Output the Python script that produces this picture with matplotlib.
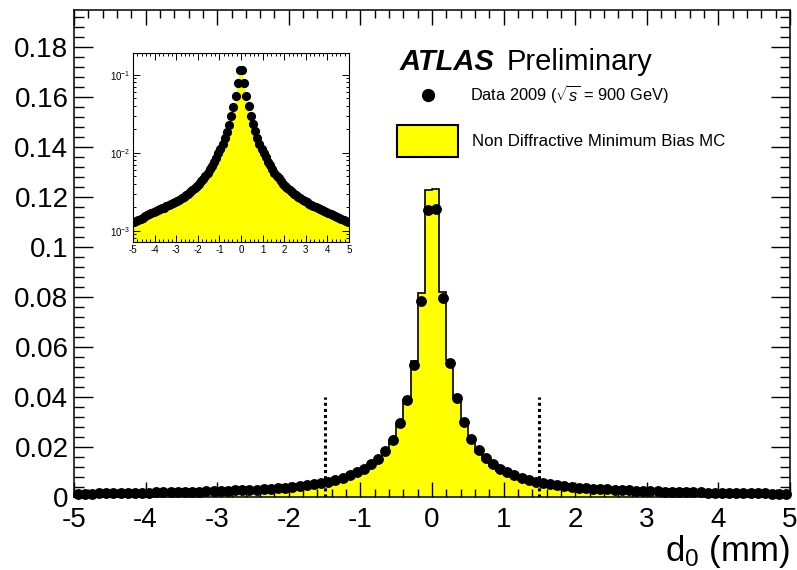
import numpy as np
import matplotlib
matplotlib.use("Agg")
import matplotlib.pyplot as plt
from matplotlib.ticker import MultipleLocator, FuncFormatter, LogLocator, NullFormatter
from matplotlib.patches import Rectangle

plt.rcParams['font.family'] = ['Liberation Sans', 'DejaVu Sans']
plt.rcParams['axes.unicode_minus'] = False
plt.rcParams['mathtext.fontset'] = 'custom'
plt.rcParams['mathtext.rm'] = 'Liberation Sans'
plt.rcParams['mathtext.it'] = 'Liberation Sans:italic'

# transverse impact parameter binning (mm)
d0_lo, d0_hi, n_bins = -5.0, 5.0, 100

# Data 2009, fraction of tracks per 0.1 mm bin (from d0 = -4.95 to 4.95)
data_frac = [
    0.00128, 0.00133, 0.00138, 0.00143, 0.00148, 0.00153, 0.00158, 0.00163, 0.00168, 0.00173,
    0.00178, 0.00183, 0.00188, 0.00194, 0.00199, 0.00206, 0.00212, 0.00219, 0.00227, 0.00235,
    0.00243, 0.00252, 0.00262, 0.00273, 0.00286, 0.00300, 0.00316, 0.00334, 0.00354, 0.00377,
    0.00402, 0.00432, 0.00467, 0.00508, 0.00556, 0.00614, 0.00683, 0.00766, 0.00866, 0.00985,
    0.0113, 0.0131, 0.0153, 0.0184, 0.0229, 0.0295, 0.0388, 0.0528, 0.0786, 0.1148,
    0.1152, 0.0795, 0.0538, 0.0398, 0.0300, 0.0234, 0.0188, 0.0155, 0.0131, 0.0113,
    0.00990, 0.00872, 0.00772, 0.00688, 0.00618, 0.00559, 0.00510, 0.00469, 0.00434, 0.00404,
    0.00378, 0.00355, 0.00335, 0.00317, 0.00301, 0.00287, 0.00274, 0.00262, 0.00251, 0.00241,
    0.00232, 0.00224, 0.00216, 0.00209, 0.00202, 0.00196, 0.00190, 0.00184, 0.00179, 0.00174,
    0.00169, 0.00164, 0.00159, 0.00155, 0.00150, 0.00146, 0.00142, 0.00138, 0.00134, 0.00130,
]

# Non diffractive minimum bias MC, same binning
mc_frac = [
    0.00113, 0.00117, 0.00121, 0.00126, 0.00130, 0.00134, 0.00139, 0.00143, 0.00148, 0.00152,
    0.00157, 0.00161, 0.00166, 0.00171, 0.00176, 0.00182, 0.00187, 0.00193, 0.00200, 0.00207,
    0.00214, 0.00222, 0.00231, 0.00241, 0.00252, 0.00264, 0.00278, 0.00294, 0.00312, 0.00332,
    0.00355, 0.00382, 0.00413, 0.00450, 0.00494, 0.00546, 0.00610, 0.00688, 0.00784, 0.00902,
    0.0105, 0.0123, 0.0146, 0.0178, 0.0224, 0.0292, 0.0390, 0.0545, 0.0818, 0.1228,
    0.1232, 0.0822, 0.0550, 0.0395, 0.0295, 0.0228, 0.0181, 0.0148, 0.0124, 0.0106,
    0.00910, 0.00790, 0.00692, 0.00614, 0.00550, 0.00497, 0.00453, 0.00416, 0.00384, 0.00357,
    0.00334, 0.00313, 0.00295, 0.00279, 0.00265, 0.00253, 0.00242, 0.00232, 0.00222, 0.00213,
    0.00205, 0.00198, 0.00191, 0.00184, 0.00178, 0.00172, 0.00167, 0.00162, 0.00157, 0.00152,
    0.00148, 0.00143, 0.00139, 0.00135, 0.00131, 0.00127, 0.00123, 0.00119, 0.00116, 0.00113,
]

# track selection cut |d0| < 1.5 mm
cut_positions = [-1.5, 1.5]
cut_height = 0.04

edges = np.linspace(d0_lo, d0_hi, n_bins + 1)
centers = 0.5 * (edges[:-1] + edges[1:])
data_frac = np.array(data_frac)
mc_frac = np.array(mc_frac)

YELLOW = '#ffff00'

fig = plt.figure(figsize=(7.97, 5.70), dpi=100)
ax = fig.add_axes([74 / 797, 73 / 570, 716 / 797, 487 / 570])

ax.stairs(mc_frac, edges, fill=True, color=YELLOW, zorder=1)
ax.stairs(mc_frac, edges, color='black', lw=1.2, zorder=2)
ax.plot(centers, data_frac, 'o', color='black', ms=6.8, zorder=4, clip_on=False)
ax.vlines(cut_positions, 0, cut_height, colors='black', linestyles=(0, (1, 1)), lw=2.2, zorder=3)

ax.set_xlim(d0_lo, d0_hi)
ax.set_ylim(0, 0.195)
ax.xaxis.set_major_locator(MultipleLocator(1))
ax.xaxis.set_minor_locator(MultipleLocator(0.2))
ax.yaxis.set_major_locator(MultipleLocator(0.02))
ax.yaxis.set_minor_locator(MultipleLocator(0.004))
ax.yaxis.set_major_formatter(FuncFormatter(lambda v, p: '%g' % round(v, 4)))
ax.xaxis.set_major_formatter(FuncFormatter(lambda v, p: '%g' % round(v, 4)))
ax.tick_params(which='both', direction='in', top=True, right=True, width=1.0, labelsize=20)
ax.tick_params(axis='y', which='major', length=14, pad=4)
ax.tick_params(axis='y', which='minor', length=7)
ax.tick_params(axis='x', which='major', length=11)
ax.tick_params(axis='x', which='minor', length=5.5)
ax.tick_params(axis='x', pad=7.5)
for s in ax.spines.values():
    s.set_linewidth(1.1)

fig.text(790 / 797, 1 - 552 / 570, r'd$_0$ (mm)', ha='right', va='center', fontsize=25)

# ATLAS label and legend
fig.text(400 / 797, 1 - 62 / 570, 'ATLAS', fontsize=21, fontweight='bold', fontstyle='italic',
         ha='left', va='center')
fig.text(507 / 797, 1 - 62 / 570, 'Preliminary', fontsize=21, ha='left', va='center')
fig.lines.append(plt.Line2D([428 / 797], [1 - 95 / 570], marker='o', color='black', ms=8.5,
                            transform=fig.transFigure))
fig.text(470 / 797, 1 - 95 / 570, r'Data 2009 ($\sqrt{s}$ = 900 GeV)', fontsize=11.8,
         ha='left', va='center')
fig.patches.append(Rectangle((397 / 797, 1 - 157 / 570), 61 / 797, 32 / 570,
                             facecolor=YELLOW, edgecolor='black', lw=1.5,
                             transform=fig.transFigure))
fig.text(472 / 797, 1 - 141 / 570, 'Non Diffractive Minimum Bias MC', fontsize=12.2,
         ha='left', va='center')

# logarithmic inset
ins = fig.add_axes([133 / 797, 1 - 242 / 570, 216 / 797, 189 / 570])
ins.stairs(mc_frac, edges, fill=True, color=YELLOW, baseline=1e-5, zorder=1)
ins.plot(centers, data_frac, 'o', color='black', ms=5.6, zorder=3)
ins.set_yscale('log')
ins.set_xlim(d0_lo, d0_hi)
ins.set_ylim(7.2e-4, 0.19)
ins.xaxis.set_major_locator(MultipleLocator(1))
ins.xaxis.set_minor_locator(MultipleLocator(0.2))
ins.yaxis.set_major_locator(LogLocator(base=10))
ins.yaxis.set_minor_locator(LogLocator(base=10, subs=np.arange(2, 10)))
ins.yaxis.set_minor_formatter(NullFormatter())
ins.xaxis.set_major_formatter(FuncFormatter(lambda v, p: '%g' % round(v, 4)))
ins.yaxis.set_major_formatter(FuncFormatter(lambda v, p: r'$10^{%d}$' % round(np.log10(v))))
ins.tick_params(which='both', direction='in', top=True, right=True, width=0.7, labelsize=7, pad=2)
ins.tick_params(which='major', length=5)
ins.tick_params(which='minor', length=2.5)
for s in ins.spines.values():
    s.set_linewidth(0.8)

fig.savefig('out.png', dpi=100)
